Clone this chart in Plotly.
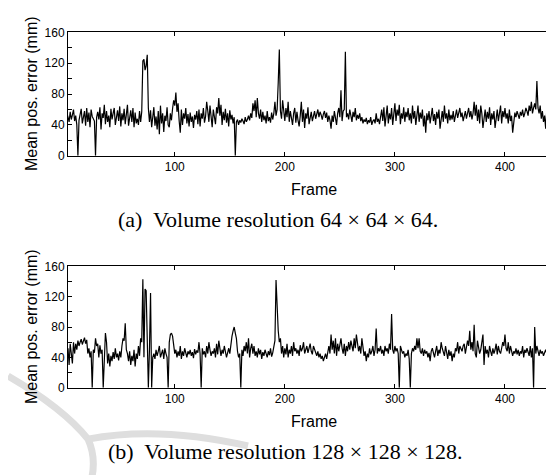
import plotly.graph_objects as go

W, H = 554, 475

frames = list(range(1, 451))

# Mean position error (mm), volume resolution 64x64x64
err_64 = [
    48, 55, 50, 44, 57, 47, 53, 60, 45, 52,
    40, 0, 46, 57, 61, 42, 49, 58, 39, 62,
    44, 56, 37, 60, 51, 47, 45, 0, 50, 57,
    47, 63, 34, 55, 49, 66, 41, 58, 44, 52,
    37, 61, 47, 55, 62, 40, 50, 59, 45, 64,
    38, 55, 46, 61, 41, 52, 66, 39, 48, 59,
    44, 62, 37, 56, 42, 48, 40, 58, 44, 57,
    123, 125, 111, 117, 131, 62, 44, 59, 37, 56,
    63, 39, 51, 34, 58, 28, 65, 42, 55, 31,
    52, 45, 63, 40, 37, 55, 46, 61, 72, 65,
    82, 57, 68, 45, 30, 60, 40, 55, 48, 62,
    42, 54, 38, 56, 44, 51, 36, 53, 47, 58,
    41, 60, 38, 55, 48, 62, 43, 51, 70, 58,
    44, 65, 48, 37, 60, 50, 41, 63, 55, 75,
    52, 66, 40, 57, 46, 61, 43, 55, 38, 59,
    47, 53, 42, 50, 0, 44, 47, 40, 46, 43,
    48, 45, 41, 50, 44, 47, 52, 46, 55, 49,
    68, 58, 72, 50, 75, 55, 48, 60, 44, 57,
    46, 52, 42, 58, 45, 50, 43, 56, 47, 55,
    70, 52, 60, 95, 138, 58, 48, 72, 55, 45,
    62, 50, 70, 44, 58, 48, 40, 55, 62, 43,
    57, 46, 38, 52, 70, 44, 60, 36, 55, 48,
    63, 41, 50, 57, 45, 52, 58, 48, 55, 60,
    50, 57, 53, 47, 54, 58, 49, 56, 44, 52,
    46, 35, 52, 44, 58, 48, 40, 55, 62, 50,
    85, 45, 58, 60, 135, 50, 55, 47, 60, 52,
    44, 57, 50, 62, 46, 53, 48, 55, 45, 50,
    42, 47, 44, 49, 41, 46, 43, 50, 40, 45,
    47, 42, 55, 44, 48, 41, 52, 60, 45, 63,
    38, 57, 65, 42, 55, 47, 62, 40, 58, 68,
    45, 60, 52, 66, 41, 55, 48, 63, 44, 57,
    50, 62, 46, 55, 42, 65, 48, 58, 40, 53,
    65, 44, 56, 48, 60, 38, 52, 30, 55, 46,
    58, 42, 50, 62, 45, 54, 40, 57, 48, 60,
    35, 52, 58, 44, 65, 48, 55, 42, 60, 46,
    53, 47, 58, 44, 51, 60, 49, 55, 62, 50,
    56, 45, 52, 58, 48, 55, 62, 50, 58, 47,
    55, 70, 52, 66, 45, 60, 42, 65, 55, 36,
    52, 60, 44, 57, 48, 63, 40, 55, 47, 58,
    36, 52, 60, 45, 55, 65, 42, 58, 50, 62,
    48, 55, 42, 60, 45, 52, 30, 47, 56, 50,
    58, 53, 48, 57, 52, 60, 50, 55, 62, 58,
    52, 65, 58, 70, 55, 62, 68, 60, 97, 62,
    55, 65, 48, 58, 44, 52, 35, 60, 45, 55,
    40, 65, 48, 58, 42, 52, 46, 60, 44, 50,
]

# Mean position error (mm), volume resolution 128x128x128
err_128 = [
    45, 38, 52, 30, 58, 40, 32, 60, 45, 58,
    50, 62, 55, 60, 64, 57, 62, 66, 58, 63,
    45, 52, 40, 48, 0, 50, 46, 65, 55, 58,
    40, 56, 45, 50, 0, 48, 72, 60, 32, 45,
    28, 42, 35, 47, 38, 52, 40, 45, 36, 48,
    40, 55, 65, 62, 85, 50, 45, 35, 48, 30,
    42, 35, 50, 28, 45, 38, 55, 42, 65, 60,
    143, 40, 130, 128, 45, 0, 50, 125, 0, 40,
    45, 38, 50, 42, 48, 55, 40, 45, 50, 38,
    52, 45, 40, 0, 60, 70, 72, 68, 55, 45,
    50, 40, 48, 42, 55, 38, 48, 42, 52, 45,
    40, 48, 44, 50, 42, 47, 39, 51, 44, 49,
    46, 60, 45, 0, 52, 44, 48, 40, 55, 45,
    60, 50, 42, 48, 45, 52, 40, 58, 44, 62,
    48, 42, 50, 45, 55, 48, 40, 46, 52, 45,
    60, 68, 75, 80, 72, 65, 48, 40, 45, 0,
    50, 42, 55, 48, 60, 45, 65, 40, 52, 58,
    45, 55, 42, 48, 40, 52, 44, 50, 38, 47,
    42, 50, 45, 40, 48, 43, 52, 41, 46, 55,
    62, 142, 95, 75, 60, 65, 45, 55, 40, 52,
    44, 58, 40, 50, 45, 55, 42, 60, 48, 52,
    45, 50, 42, 56, 48, 52, 60, 45, 50, 55,
    46, 52, 58, 48, 44, 55, 50, 45, 42, 48,
    40, 45, 38, 42, 35, 40, 45, 38, 48, 55,
    45, 70, 50, 62, 45, 65, 42, 58, 48, 55,
    65, 52, 45, 58, 42, 55, 48, 60, 50, 62,
    55, 48, 65, 52, 70, 60, 48, 55, 45, 65,
    50, 42, 48, 35, 45, 40, 52, 44, 48, 55,
    42, 50, 78, 45, 52, 48, 55, 45, 50, 42,
    55, 48, 52, 45, 58, 50, 97, 50, 45, 55,
    48, 52, 45, 0, 55, 50, 45, 48, 40, 45,
    42, 50, 38, 0, 45, 52, 48, 55, 50, 65,
    52, 65, 48, 45, 52, 42, 50, 45, 48, 40,
    46, 35, 48, 52, 45, 40, 48, 55, 42, 50,
    45, 60, 52, 48, 42, 55, 45, 38, 50, 42,
    48, 35, 45, 40, 52, 48, 60, 45, 55, 50,
    48, 55, 58, 45, 52, 62, 55, 75, 50, 60,
    48, 83, 45, 40, 62, 55, 45, 50, 58, 70,
    30, 55, 45, 50, 40, 55, 48, 42, 52, 45,
    50, 58, 44, 55, 48, 45, 52, 60, 55, 70,
    52, 48, 60, 45, 55, 50, 42, 48, 45, 52,
    44, 50, 42, 48, 45, 55, 40, 50, 46, 52,
    48, 42, 55, 40, 52, 0, 80, 45, 55, 48,
    42, 50, 45, 48, 42, 46, 50, 45, 60, 42,
    55, 48, 45, 52, 60, 40, 55, 48, 50, 42,
]

y_tick_vals = [0, 20, 40, 60, 80, 100, 120, 140, 160]
y_tick_text = ["0", "", "40", "", "80", "", "120", "", "160"]
x_tick_vals = [100, 200, 300, 400]
x_tick_text = ["100", "200", "300", "400"]
x_title = "Frame"
y_title = "Mean pos. error (mm)"
captions = ["(a)  Volume resolution 64 × 64 × 64.",
            "(b)  Volume resolution 128 × 128 × 128."]

x_range = [3, 450]
y_range = [0, 160]

def px_x(p):
    return p / W

def px_y(p):
    return 1 - p / H

# plot boxes in pixels (left, right, top, bottom)
boxes = [(60, 552, 18, 145), (60, 552, 259, 384)]

fig = go.Figure()

# faint background watermark arcs (page decoration)
fig.add_shape(type="path", xref="paper", yref="paper", layer="below",
              path=f"M {px_x(0)},{px_y(372)} Q {px_x(55)},{px_y(405)} {px_x(80)},{px_y(437)} "
                   f"Q {px_x(88)},{px_y(455)} {px_x(84)},{px_y(476)}",
              line=dict(color="#dedede", width=7))
fig.add_shape(type="path", xref="paper", yref="paper", layer="below",
              path=f"M {px_x(80)},{px_y(437)} Q {px_x(150)},{px_y(423)} {px_x(240)},{px_y(444)}",
              line=dict(color="#dedede", width=7))

series = [err_64, err_128]
for i, (vals, box) in enumerate(zip(series, boxes)):
    sfx = "" if i == 0 else str(i + 1)
    fig.add_trace(go.Scatter(
        x=frames, y=vals, mode="lines",
        line=dict(color="black", width=1.2),
        xaxis="x" + sfx, yaxis="y" + sfx, showlegend=False,
        hoverinfo="skip",
    ))
    l, r, t, b = box
    common = dict(
        showline=True, linecolor="black", linewidth=1, mirror="ticks",
        ticks="inside", ticklen=4, tickcolor="black", tickwidth=1,
        showgrid=False, zeroline=False,
        tickfont=dict(family="Liberation Sans, Arial, sans-serif", size=12, color="black"),
    )
    fig.update_layout(**{
        "xaxis" + sfx: dict(common, domain=[px_x(l), px_x(r)], range=x_range,
                             tickvals=x_tick_vals, ticktext=x_tick_text,
                             anchor="y" + sfx),
        "yaxis" + sfx: dict(common, domain=[px_y(b), px_y(t)], range=y_range,
                             tickvals=y_tick_vals, ticktext=y_tick_text,
                             anchor="x" + sfx),
    })
    fig.add_annotation(text=y_title, xref="paper", yref="paper",
                       x=px_x(23), y=px_y((t + b) / 2), textangle=-90,
                       showarrow=False, xanchor="center", yanchor="middle",
                       font=dict(family="Liberation Sans, Arial, sans-serif", size=16, color="black"))
    fig.add_annotation(text=x_title, xref="paper", yref="paper",
                       x=px_x((l + r) / 2), y=px_y(b + 35),
                       showarrow=False, xanchor="center", yanchor="middle",
                       font=dict(family="Liberation Sans, Arial, sans-serif", size=16, color="black"))

cap_pos = [(270, 211), (277, 450)]
for cap, (cx, cy) in zip(captions, cap_pos):
    fig.add_annotation(text=cap, xref="paper", yref="paper",
                       x=px_x(cx), y=px_y(cy), showarrow=False,
                       xanchor="center", yanchor="middle",
                       font=dict(family="Liberation Serif, Times New Roman, serif", size=22, color="black"))

fig.update_layout(
    width=W, height=H,
    margin=dict(l=0, r=0, t=0, b=0),
    paper_bgcolor="white", plot_bgcolor="white",
    showlegend=False,
)

fig.write_html("out.html")
